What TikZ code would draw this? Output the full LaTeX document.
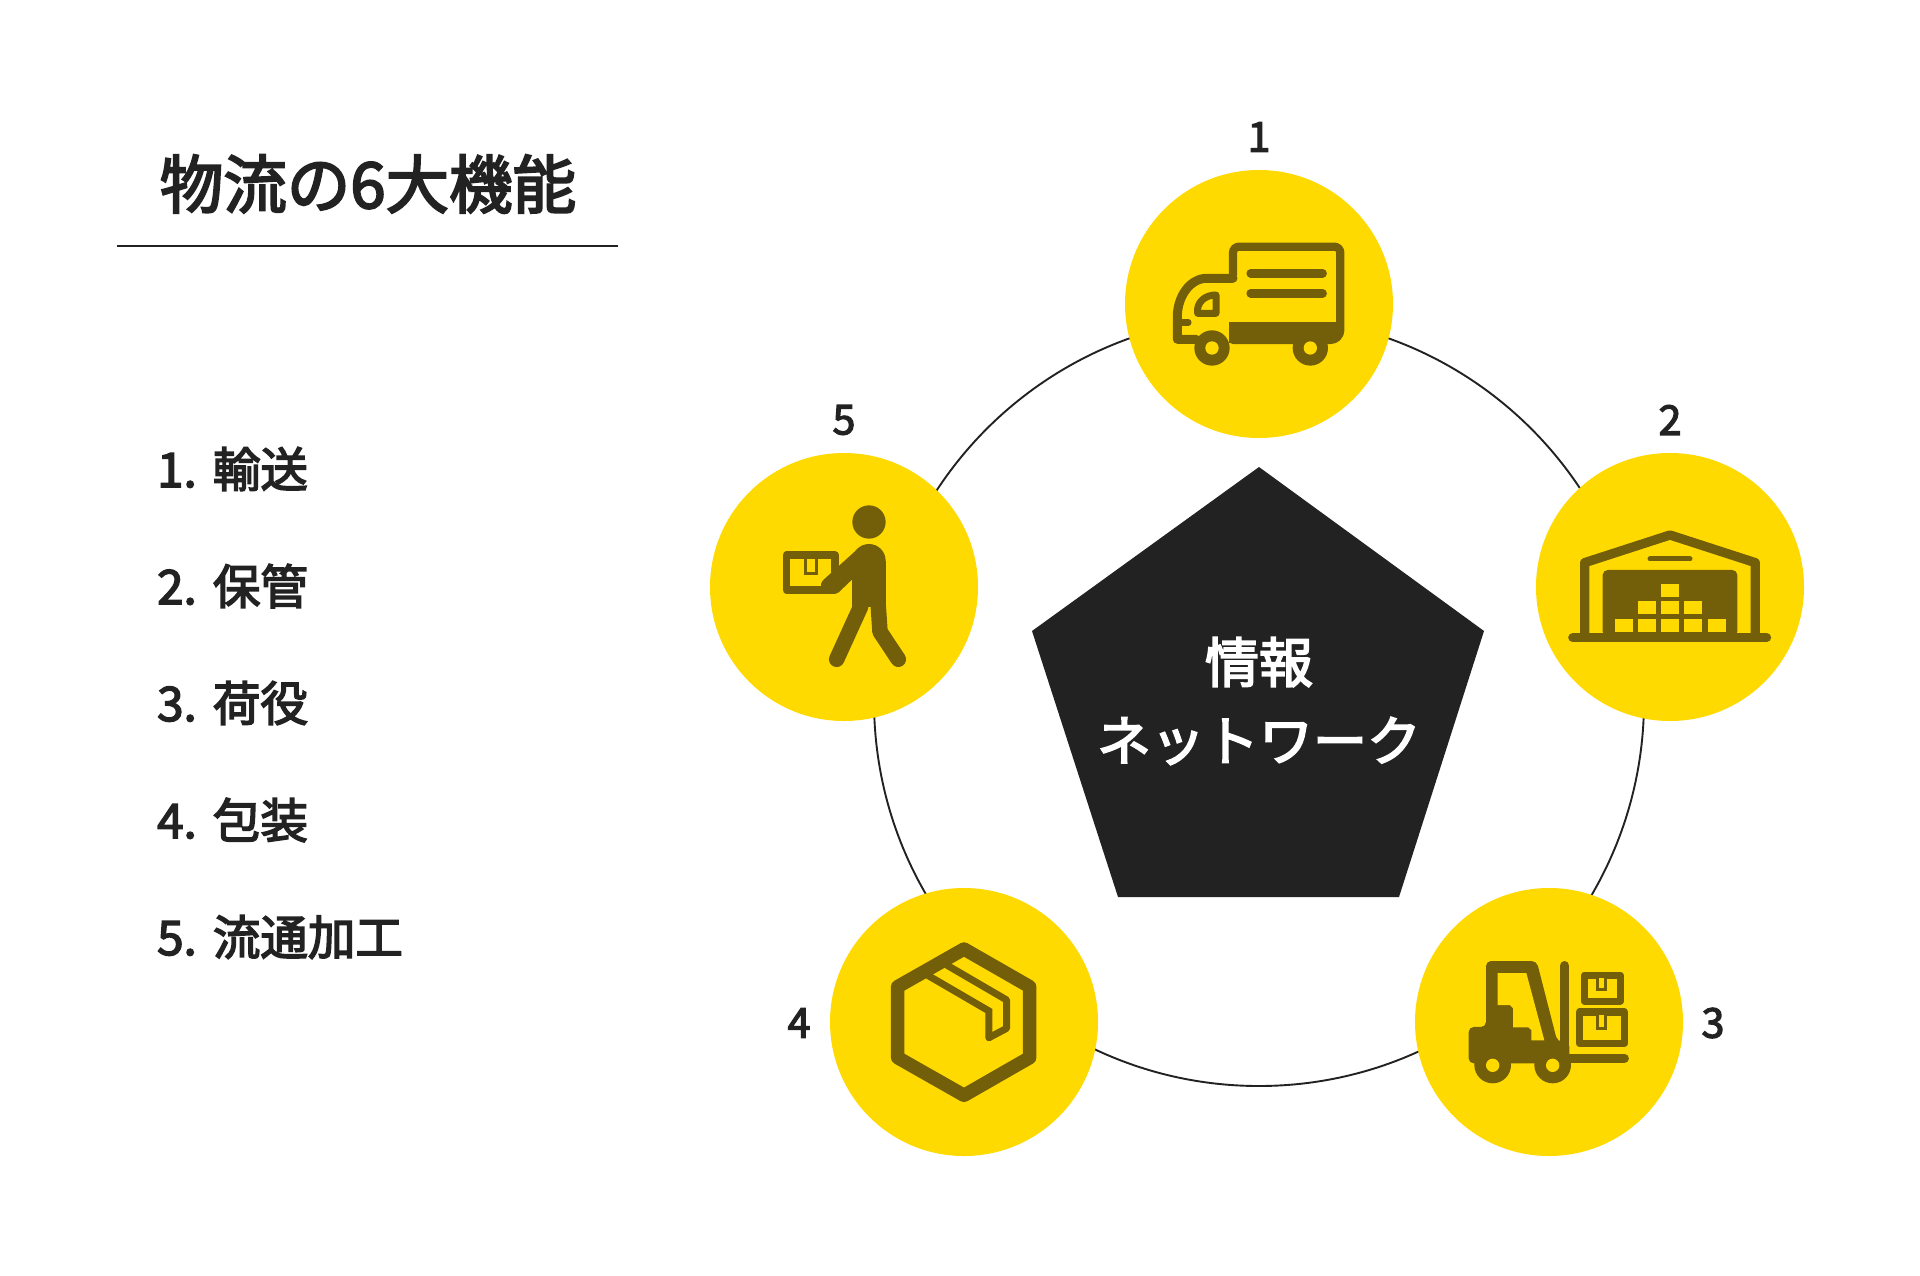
\documentclass[tikz,border=0pt]{standalone}
\usepackage{fontspec}
\setmainfont{Noto Sans CJK JP}[FakeBold=3.2]
\definecolor{ylw}{HTML}{FFDA00}
\definecolor{ico}{HTML}{735E0A}
\definecolor{ink}{HTML}{222222}
\tikzset{
  disc/.style={circle,fill=ylw,minimum size=268pt,inner sep=0pt},
  numlabel/.style={font=\fontsize{41}{48}\selectfont,text=ink,inner sep=0pt,anchor=center},
  item/.style={font=\fontsize{47.5}{52}\selectfont,text=ink,inner sep=0pt,anchor=west},
  ttl/.style={font=\fontsize{63.5}{70}\selectfont,text=ink,inner sep=0pt,anchor=center},
  ctr/.style={font=\fontsize{54}{62}\selectfont,text=white,inner sep=0pt,anchor=center},
  icoline/.style={draw=ico,line join=round,line cap=round,fill=none},
  zoomed/.style={x=0.3333pt,y=-0.3333pt},
}
\begin{document}
\begin{tikzpicture}[x=1pt,y=-1pt]
\useasboundingbox (0,0) rectangle (1920,1275);
\fill[white] (0,0) rectangle (1920,1275);
% ring
\coordinate (ringc) at (1259,701);
\draw[ink,line width=1.9pt] (ringc) circle[radius=385];
% pentagon
\coordinate (pa) at (1259,467);
\coordinate (pb) at (1484,631);
\coordinate (pc) at (1399,897);
\coordinate (pd) at (1118,897);
\coordinate (pe) at (1032,631);
\fill[ink] (pa) -- (pb) -- (pc) -- (pd) -- (pe) -- cycle;
\node[ctr] (c1) at (1259,662) {情報};
\node[ctr] (c2) at (1259,741) {ネットワーク};
% discs
\node[disc] (d1) at (1259,304) {};
\node[disc] (d2) at (1670,587) {};
\node[disc] (d3) at (1549,1022) {};
\node[disc] (d4) at (964,1022) {};
\node[disc] (d5) at (844,587) {};
% numbers
\node[numlabel] (n1) at (1259,137) {1};
\node[numlabel] (n2) at (1670,420) {2};
\node[numlabel] (n3) at (1713,1023) {3};
\node[numlabel] (n4) at (799,1023) {4};
\node[numlabel] (n5) at (844,420) {5};
% title
\node[ttl] (title) at (368,184) {物流の6大機能};
\coordinate (ul) at (117,246);
\coordinate (ur) at (618,246);
\draw[ink,line width=2pt] (ul) -- (ur);
% list
\node[item] (i1) at (157,469) {1.\hspace{2pt} 輸送};
\node[item] (i2) at (157,586) {2.\hspace{2pt} 保管};
\node[item] (i3) at (157,703) {3.\hspace{2pt} 荷役};
\node[item] (i4) at (157,820) {4.\hspace{2pt} 包装};
\node[item] (i5) at (157,937) {5.\hspace{2pt} 流通加工};
% truck (zoom coordinates)
\begin{scope}[shift={(1110,160)},zoomed]
 \draw[icoline,line width=8.2pt] (369,345) -- (369,278) arc[start angle=180,end angle=270,radius=18] -- (673,260) arc[start angle=270,end angle=360,radius=18] -- (691,510) arc[start angle=0,end angle=90,radius=30] -- (369,540);
 \fill[ico] (369,487) rectangle (691,530);
 \fill[ico] (358,487) rectangle (400,550);
 \draw[icoline,line width=9pt] (369,355) -- (290,355) .. controls (240,355) and (202,410) .. (202,470) -- (202,538) -- (258,538);
 \draw[icoline,line width=6.5pt] (205,487) -- (235,487);
 \draw[icoline,line width=7pt] (263,460) -- (263,445) .. controls (268,420) and (290,405) .. (318,405) -- (318,460) -- cycle;
 \draw[icoline,line width=8.5pt] (422,340) -- (638,340);
 \draw[icoline,line width=8.5pt] (422,400) -- (638,400);
 \fill[ico] (306,564) circle[radius=53];
 \fill[ico] (601,564) circle[radius=53];
 \fill[ylw] (306,564) circle[radius=20];
 \fill[ylw] (601,564) circle[radius=20];
\end{scope}
% warehouse
\begin{scope}[shift={(1530,450)},zoomed]
 \draw[icoline,line width=9pt] (128,563) -- (710,563);
 \draw[icoline,line width=9.3pt,line cap=butt] (164,555) -- (164,338) -- (420,255) -- (676,338) -- (676,555);
 \draw[icoline,line width=5pt] (360,327) -- (480,327);
 \fill[ico,rounded corners=5pt] (218,360) rectangle (622,560);
 \foreach \x/\y in {392/401,324/454,392/454,463/454,255/507,324/507,392/507,463/507,533/507}{
   \fill[ylw] (\x,\y) rectangle ++(54,39);
 }
\end{scope}
% forklift
\begin{scope}[shift={(1410,885)},zoomed]
 \fill[ico,rounded corners=5pt] (176,426) -- (228,426) -- (228,228) -- (380,228) -- (442,470) -- (478,470) -- (478,535) -- (176,535) -- cycle;
 \fill[ylw] (263,264) -- (349,264) -- (403,466) -- (364,466) -- (364,435) -- (355,427) -- (309,427) -- (309,370) -- (300,360) -- (263,360) -- cycle;
 \draw[icoline,line width=9.3pt] (464,242) -- (464,480);
 \draw[icoline,line width=8.5pt] (478,520) -- (644,520);
 \draw[ico,line width=7pt,line join=round] (523,270) rectangle (631,348);
 \draw[ico,line width=7.5pt,line join=round] (509,381) rectangle (643,475);
 \draw[ico,line width=2.7pt,fill=ylw] (563,280) -- (563,314) -- (586,314) -- (586,280);
 \draw[ico,line width=2.7pt,fill=ylw] (563,390) -- (563,430) -- (586,430) -- (586,390);
 \fill[ico] (248,540) circle[radius=55];
 \fill[ico] (428,540) circle[radius=55];
 \fill[ylw] (248,541) circle[radius=20];
 \fill[ylw] (428,541) circle[radius=20];
\end{scope}
% box
\begin{scope}[shift={(825,885)},zoomed]
 \draw[icoline,line width=13.5pt] (417,192) -- (614,305) -- (614,518) -- (417,631) -- (218,518) -- (218,305) -- cycle;
 \draw[icoline,line width=7pt,line join=miter] (310,272) -- (492,378) -- (492,458);
 \draw[icoline,line width=7pt,line join=round] (365,240) -- (545,345) -- (545,430) -- (492,458);
\end{scope}
% person
\begin{scope}[shift={(710,450)},zoomed]
 \fill[ico] (477,216) circle[radius=50];
 \draw[ico,line width=7.3pt,line join=round] (229,315) rectangle (375,420);
 \draw[ico,line width=3pt] (286,326) -- (286,372) -- (320,372) -- (320,326);
 \fill[ico] (477,332) circle[radius=50];
 \fill[ico] (427,332) rectangle (527,470);
 \fill[ico] (445,295) -- (340,390) .. controls (325,405) and (335,428) .. (352,428) -- (385,428) -- (430,385) -- cycle;
 \draw[icoline,line width=15.5pt] (452,470) -- (380,628);
 \draw[icoline,line width=15.5pt] (505,470) -- (510,545) -- (565,628);
\end{scope}
\end{tikzpicture}
\end{document}
